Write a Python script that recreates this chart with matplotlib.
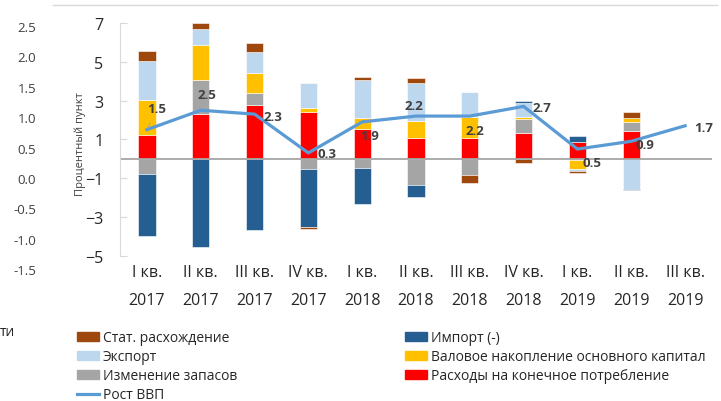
import numpy as np
import matplotlib
matplotlib.use('Agg')
import matplotlib.pyplot as plt
from matplotlib.lines import Line2D
from matplotlib.patches import Patch

plt.rcParams['font.family'] = ['Open Sans', 'DejaVu Sans']

quarters = ['I кв.', 'II кв.', 'III кв.', 'IV кв.', 'I кв.', 'II кв.', 'III кв.', 'IV кв.',
            'I кв.', 'II кв.', 'III кв.']
years = ['2017', '2017', '2017', '2017', '2018', '2018', '2018', '2018', '2019', '2019', '2019']

# contributions to GDP growth, p.p. (series order = stacking order)
consumption = [1.2, 2.3, 2.75, 2.42, 1.55, 1.07, 1.09, 1.35, 0.87, 1.43, 0]
inventories = [-0.8, 1.76, 0.62, -0.55, -0.5, -1.37, -0.85, 0.69, -0.08, 0.44, 0]
investment = [1.83, 1.8, 1.03, 0.18, 0.53, 0.86, 1.08, 0.09, -0.46, 0.23, 0]
exports = [2.0, 0.85, 1.1, 1.3, 1.98, 2.0, 1.27, 0.74, -0.09, -1.55, 0]
imports = [-3.2, -4.54, -3.65, -2.97, -1.85, -0.6, 0, 0.09, 0.32, -0.05, 0]
discrepancy = [0.52, 0.27, 0.45, -0.08, 0.17, 0.21, -0.38, -0.21, -0.09, 0.31, 0]
gdp_growth = [1.5, 2.5, 2.3, 0.3, 1.9, 2.2, 2.2, 2.7, 0.5, 0.9, 1.7]

outer_ticks = [-1.5, -1.0, -0.5, 0.0, 0.5, 1.0, 1.5, 2.0, 2.5]
inner_ticks = [-5, -3, -1, 1, 3, 5, 7]

c_cons = '#FF0000'
c_inv = '#A5A5A5'
c_gfcf = '#FFC000'
c_exp = '#BDD7EE'
c_imp = '#255E91'
c_stat = '#9E480E'
c_line = '#5B9BD5'

W, H = 721, 402
fig = plt.figure(figsize=(W / 100, H / 100), dpi=100)

# leftover axis on the far left
ax0 = fig.add_axes([36 / W, 1 - 270 / H, 0.01, (270 - 27) / H])
ax0.set_ylim(-1.5, 2.5)
ax0.set_yticks(outer_ticks)
ax0.set_yticklabels(['%.1f' % t for t in outer_ticks])
ax0.set_xticks([])
for s in ax0.spines.values():
    s.set_visible(False)
ax0.tick_params(axis='y', length=0, pad=0, labelsize=9.5, labelcolor='#404040')

ax = fig.add_axes([120 / W, 1 - 256.7 / H, (712 - 120) / W, (256.7 - 24) / H])
x = np.arange(len(quarters))

stack = [
    (consumption, c_cons),
    (inventories, c_inv),
    (investment, c_gfcf),
    (exports, c_exp),
    (imports, c_imp),
    (discrepancy, c_stat),
]
pos = np.zeros(len(x))
neg = np.zeros(len(x))
for vals, col in stack:
    v = np.array(vals, dtype=float)
    base = np.where(v >= 0, pos, neg)
    ax.bar(x, v, bottom=base, width=0.32, color=col, edgecolor='white',
           linewidth=0.4, zorder=2)
    pos += np.clip(v, 0, None)
    neg += np.clip(v, None, 0)

ax.axhline(0, color='#A6A6A6', lw=1.3, zorder=2.5)
ax.plot(x, gdp_growth, color=c_line, lw=2.3, zorder=3, solid_joinstyle='round')

# data label offsets in pixels (dx right, dy down)
label_offsets = [(10, -21), (6, -16), (18, 2), (19, 1), (7, 14), (-2, -11),
                 (5, 14), (18, 1), (15, 13), (14, 3), (19, 2)]
for i, (v, (dx, dy)) in enumerate(zip(gdp_growth, label_offsets)):
    arrow = None
    if i == 0:
        arrow = dict(arrowstyle='-', color='#A6A6A6', lw=0.7, shrinkA=4, shrinkB=1)
    ax.annotate('%.1f' % v, xy=(i, v), xytext=(dx * 0.72, -dy * 0.72),
                textcoords='offset points', ha='center', va='center',
                fontsize=9.5, fontweight='bold', color='#404040',
                arrowprops=arrow, zorder=4)

ax.set_xlim(-0.5, 10.5)
ax.set_ylim(-5, 7)
ax.set_yticks(inner_ticks)
ax.set_xticks(x)
ax.set_xticklabels([q + '\n' + y for q, y in zip(quarters, years)], linespacing=2.0)
for s in ['top', 'right', 'bottom']:
    ax.spines[s].set_visible(False)
ax.spines['left'].set_color('#D9D9D9')
ax.tick_params(axis='y', direction='in', length=5, color='#D9D9D9', labelsize=11.5,
               pad=12, labelcolor='#262626')
ax.tick_params(axis='x', length=0, labelsize=11.5, pad=6, labelcolor='#262626')

fig.text(80 / W, 1 - 144 / H, 'Процентный пункт', rotation=90, ha='center',
         va='center', fontsize=8, color='#404040')

fig.add_artist(Line2D([53 / W, 717 / W], [1 - 6 / H, 1 - 6 / H], color='#D9D9D9', lw=1))
fig.text(0, 1 - 333 / H, 'ти', ha='left', va='center', fontsize=10, color='#262626')

h1 = [Patch(color=c_stat), Patch(color=c_exp), Patch(color=c_inv),
      Line2D([], [], color=c_line, lw=2.3)]
l1 = ['Стат. расхождение', 'Экспорт', 'Изменение запасов', 'Рост ВВП']
h2 = [Patch(color=c_imp), Patch(color=c_gfcf), Patch(color=c_cons)]
l2 = ['Импорт (-)', 'Валовое накопление основного капитал', 'Расходы на конечное потребление']
leg_kw = dict(loc='upper left', frameon=False, fontsize=10, handlelength=1.6,
              handleheight=0.6, handletextpad=0.25, labelspacing=0.3,
              borderpad=0, borderaxespad=0, labelcolor='#262626')
fig.legend(h1, l1, bbox_to_anchor=(77 / W, 1 - 331 / H), **leg_kw)
fig.legend(h2, l2, bbox_to_anchor=(405 / W, 1 - 331 / H), **leg_kw)

fig.savefig('out.png', dpi=100)
